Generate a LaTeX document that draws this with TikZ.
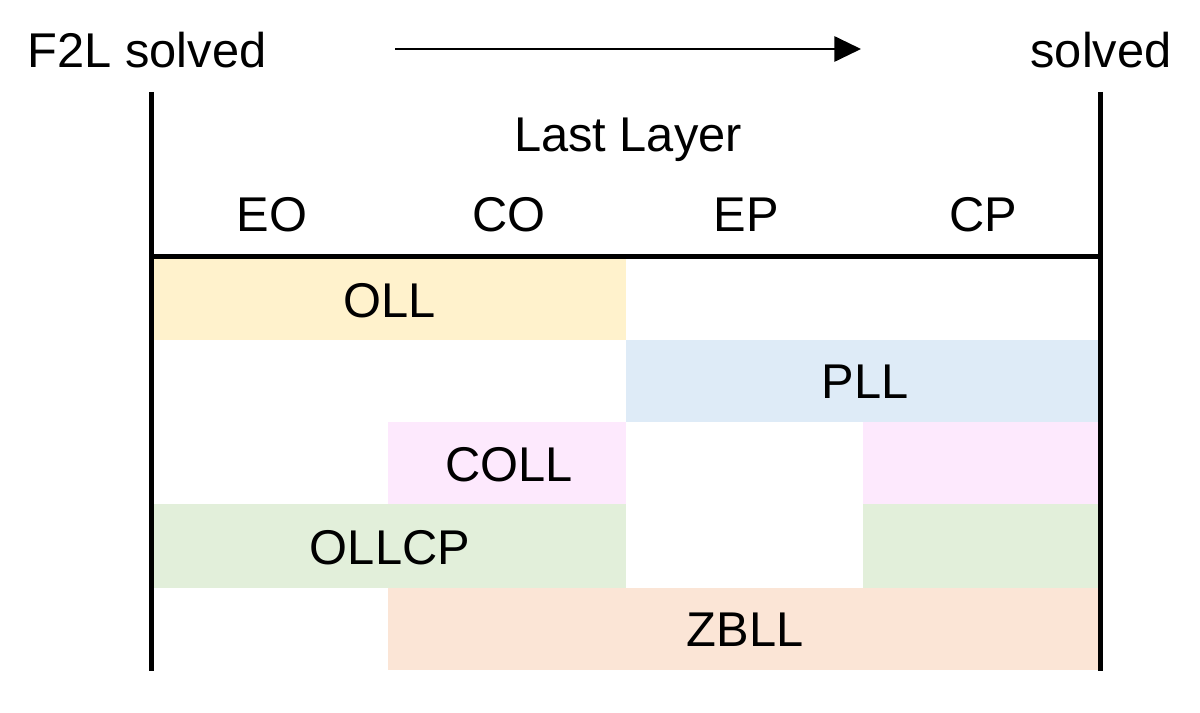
\documentclass[tikz,border=0pt]{standalone}
\usepackage{fontspec}
\setmainfont{Liberation Sans}
\usetikzlibrary{arrows.meta}
\definecolor{ollc}{HTML}{FFF2CC}
\definecolor{pllc}{HTML}{DEEBF7}
\definecolor{collc}{HTML}{FDE9FD}
\definecolor{ollcpc}{HTML}{E2EFDA}
\definecolor{zbllc}{HTML}{FBE5D6}
\tikzset{
  lbl/.style={anchor=base, inner sep=0pt, font=\fontsize{36.6}{44}\selectfont},
  frameline/.style={line width=3.75pt},
}
\begin{document}
\begin{tikzpicture}[x=0.75pt, y=-0.75pt]
\useasboundingbox (0,0) rectangle (1200,713);
% bands
\fill[ollc] (151,256) rectangle (626,340);
\fill[pllc] (626,340) rectangle (1100,422);
\fill[collc] (388,422) rectangle (626,504);
\fill[collc] (863,422) rectangle (1100,504);
\fill[ollcpc] (151,504) rectangle (626,588);
\fill[ollcpc] (863,504) rectangle (1100,588);
\fill[zbllc] (388,588) rectangle (1100,670);
% frame
\coordinate (lt) at (151,92);
\coordinate (lb) at (151,671);
\coordinate (rt) at (1100,92);
\coordinate (rb) at (1100,671);
\coordinate (hl) at (151,256.5);
\coordinate (hr) at (1100,256.5);
\draw[frameline] (lt) -- (lb);
\draw[frameline] (rt) -- (rb);
\draw[frameline] (hl) -- (hr);
% top labels
\node[lbl] (f2l) at (147,68) {F2L solved};
\node[lbl] (sol) at (1101,68) {solved};
\coordinate (as) at (395,49);
\coordinate (ae) at (861,49);
\draw[line width=1.5pt, -{Triangle[length=20pt, width=19pt]}] (as) -- (ae);
\node[lbl] (ll) at (628,152) {Last Layer};
\node[lbl] (eo) at (272,232) {EO};
\node[lbl] (co) at (509,232) {CO};
\node[lbl] (ep) at (746,232) {EP};
\node[lbl] (cp) at (983,232) {CP};
% band labels
\node[lbl] (oll) at (390,317) {OLL};
\node[lbl] (pll) at (865,398) {PLL};
\node[lbl] (coll) at (509,481) {COLL};
\node[lbl] (ollcp) at (390,564) {OLLCP};
\node[lbl] (zbll) at (745,646) {ZBLL};
\end{tikzpicture}
\end{document}
